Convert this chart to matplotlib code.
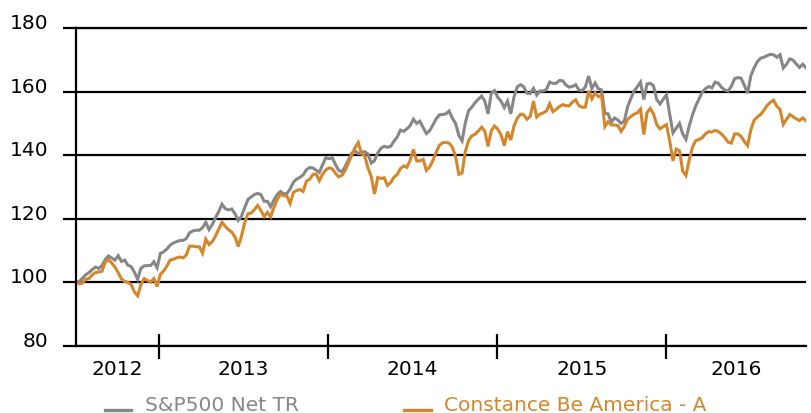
import matplotlib
matplotlib.use('Agg')
import matplotlib.pyplot as plt
from matplotlib.lines import Line2D
import pandas as pd

# ---- data (weekly index values, rebased to 100) ----
start_date = '2012-07-06'
sp500 = [
    100, 100.3, 101.3, 102.4, 103.1, 104, 104.8, 104.4, 105.3, 107.2,
    108.3, 107.7, 107, 108.4, 106.6, 107, 105.4, 105, 103.2, 101,
    104.4, 105.2, 105.3, 105.3, 106.5, 104.6, 109.1, 109.6, 110.5, 111.7,
    112.4, 112.8, 113.2, 113.2, 113.8, 115.6, 116.2, 116.4, 116.4, 117.2,
    118.9, 116.6, 118.2, 120.3, 122.3, 124.6, 123.2, 122.8, 123.1, 121.6,
    119.5, 120.8, 123.5,
    126.1, 126.9, 127.6, 128, 127.6, 125.5, 125.5, 123.8, 125.9, 127.6,
    128.6, 127.9, 127.9, 129.4, 131.5, 132.5, 133, 133.8, 135.4, 136.1,
    136, 135.3, 134.6, 137, 139.2, 138.9, 139.2, 137, 135.2, 134.8,
    136.5, 138.6, 140.6, 141.4, 140.5, 140.9, 141.1, 140.4, 137.5, 138.3,
    140.7, 142.2, 142.8, 142.5, 142.8, 144.4, 145.7, 147.9, 147.5, 148.3,
    149.3, 151.3, 150, 150.7,
    148.7, 146.8, 147.7, 149.5, 151.4, 152.7, 152.8, 153, 153.9, 151.6,
    150, 146.2, 144.5, 150.2, 154, 155.1, 156.5, 157.6, 158.6, 157,
    153, 159.5, 160.3, 158.2, 157, 155, 157, 153, 158.3, 161.5,
    162.2, 161.5, 159.5, 159.4, 161, 158.9, 160.2, 160.2, 160.7, 163,
    162.6, 162.6, 163.5, 163.4, 162.1, 161.4, 161.6, 162.2, 160.5, 160.3,
    161.5, 164.9,
    161, 162.7, 160.9, 160.5, 153.2, 153, 150.4, 151.7, 151.1, 150,
    150.7, 155.2, 157.8, 160.2, 161.5, 163, 157.5, 162.4, 162.6, 161.8,
    157.5, 156.1, 157.6, 159, 152.8, 147, 148.5, 150, 146.7, 145,
    149.2, 152.6, 155.5, 157.6, 159.8, 160.9, 161.6, 161.2, 163, 162.6,
    161.3, 160.5, 160.2, 161.7, 164.1, 164.4, 164.2, 162, 159.5, 165,
    167.5, 169.4, 170.5, 170.8, 171.3, 171.7, 171.6, 170.8, 171.6, 167.4,
    168.6, 170.3, 169.9, 168.7, 167.6, 168.6, 167.5,
]
fund = [
    100, 99.6, 99.8, 101, 101.2, 102.4, 103.1, 103.3, 103.5, 106.3,
    107.2, 106.1, 104.8, 103.1, 101.1, 100.3, 100, 99.3, 97, 95.8,
    99.3, 101.2, 100.6, 100.1, 101.2, 98.7, 102.5, 103.6, 105.1, 107,
    107.3, 107.7, 108, 107.7, 108.6, 111.4, 111.4, 111.2, 111.2, 109.2,
    113.6, 111.9, 112.8, 114.6, 116.8, 118.9, 117.6, 116.6, 115.8, 114.3,
    111.3,
    114.5, 118.8, 121.6, 121.8, 122.9, 124.2, 122.6, 120.7, 122, 120.6,
    123.6, 126, 127.7, 127.3, 127.1, 124.8, 128.3, 128.9, 129.2, 128.6,
    131.8, 132.4, 133.9, 134.1, 132, 134, 135.4, 136, 135.7, 134.2,
    133.2, 133.7, 135.3, 137.6, 140, 142.4, 144, 140.4, 139.8, 136,
    133.3, 127.8, 133, 132.7, 132.9, 130.5, 131.4, 133.1, 133.9, 135.8,
    136.6, 136.2, 138.4, 141.8, 138.2, 138.2,
    138.7, 135.2, 136.3, 138.3, 140.9, 143.1, 143.9, 144, 143.8, 142.5,
    139.5, 134, 134.4, 141.2, 144.6, 146.1, 146.6, 147.6, 148.8, 147.5,
    142.8, 147.7, 149.2, 148.2, 146.4, 143, 147.4, 144.8, 149.2, 151.6,
    152.9, 152.7, 151.3, 152.2, 157, 152, 152.9, 153.3, 153.9, 156.2,
    153.7, 154.4, 155.3, 155.9, 155.6, 155.5, 156.7, 157.4, 155.6, 155.1,
    155.1, 160.2,
    157.7, 159.6, 158.4, 158.8, 149, 150.5, 149.5, 149.5, 149.3, 147.5,
    149, 151.3, 152.1, 152.9, 153.3, 154.5, 146.5, 153.4, 154.7, 153,
    149.6, 148.3, 149, 149.6, 144.4, 138.2, 141.9, 141.4, 135, 133.6,
    138.5, 142.5, 144.6, 144.9, 145.5, 146.7, 147.4, 147.3, 147.8, 147.4,
    146.6, 145.5, 144.1, 143.8, 146.7, 146.7, 145.9, 144.3, 143, 148,
    151, 152, 152.8, 154.1, 155.6, 156.6, 157.3, 155.4, 154.4, 149.7,
    151.3, 152.8, 152.1, 151.4, 150.9, 151.7, 150.8,
]
series_names = ['S&P500 Net TR', 'Constance Be America - A']
year_labels = ['2012', '2013', '2014', '2015', '2016']
year_starts = ['2013-01-01', '2014-01-01', '2015-01-01', '2016-01-01']
y_ticks = [80, 100, 120, 140, 160, 180]

# ---- styling ----
GRAY = '#878787'
ORANGE = '#D4862B'
FS = 14.5
plt.rcParams['font.family'] = ['DejaVu Sans']

dates = pd.date_range(start_date, periods=len(sp500), freq='7D')
bounds = [dates[0]] + list(pd.to_datetime(year_starts)) + [dates[-1]]
mids = [a + (b - a) / 2 for a, b in zip(bounds[:-1], bounds[1:])]

W, H = 811, 414
fig = plt.figure(figsize=(W / 100, H / 100), dpi=100)
ax = fig.add_axes([76 / W, 1 - 347 / H, 730 / W, 318 / H])

ax.plot(dates, sp500, color=GRAY, lw=2.2, solid_joinstyle='miter')
ax.plot(dates, fund, color=ORANGE, lw=2.2, solid_joinstyle='miter')

ax.set_xlim(dates[0], dates[-1])
ax.set_ylim(80, 180)
ax.set_yticks(y_ticks)
ax.set_yticklabels([str(v) for v in y_ticks])
ax.yaxis.grid(True, color='black', lw=1.6)

for s in ['left', 'top', 'bottom']:
    ax.spines[s].set_color('black')
    ax.spines[s].set_linewidth(1.6)
ax.spines['right'].set_visible(False)

ax.tick_params(axis='y', direction='out', length=9.5, width=1.6,
               labelsize=FS, pad=10.5, colors='black')
for lab in ax.get_yticklabels():
    lab.set_verticalalignment('baseline')

ax.set_xticks(pd.to_datetime(year_starts))
ax.set_xticklabels([])
ax.set_xticks(mids, minor=True)
ax.set_xticklabels(year_labels, minor=True)
ax.tick_params(axis='x', which='major', direction='inout', length=18, width=1.6)
ax.tick_params(axis='x', which='minor', length=0, labelsize=FS, pad=9.5)

# ---- legend (manual, handle sits at text baseline) ----
leg_y = 1 - 411 / H
items = [(105, 131, 145, GRAY, series_names[0]),
         (404, 431, 444, ORANGE, series_names[1])]
for x0, x1, xt, col, name in items:
    fig.add_artist(Line2D([x0 / W, x1 / W], [leg_y, leg_y], color=col, lw=2.4,
                          transform=fig.transFigure))
    fig.text(xt / W, leg_y, name, color=col, fontsize=FS, va='baseline', ha='left')

fig.savefig('out.png', dpi=100)
